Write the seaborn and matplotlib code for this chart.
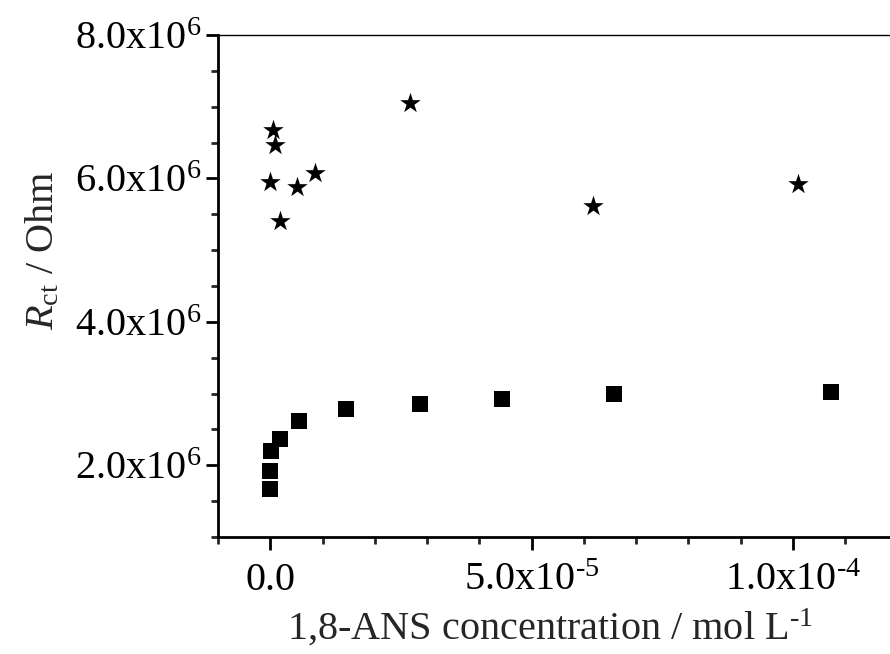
import matplotlib
matplotlib.use("Agg")
import matplotlib.pyplot as plt
import seaborn as sns
import pandas as pd
from matplotlib.ticker import FixedLocator, MultipleLocator, FixedFormatter

# ---- data ----
sq_x = [0.0, 0.0, 0.1e-6, 1.9e-6, 5.5e-6, 1.45e-5, 2.86e-5, 4.44e-5, 6.58e-5, 1.073e-4]
sq_y = [1.675e6, 1.92e6, 2.196e6, 2.373e6, 2.62e6, 2.78e6, 2.86e6, 2.925e6, 2.99e6, 3.02e6]

st_x = [0.5e-6, 1.0e-6, 0.0, 5.1e-6, 8.5e-6, 1.8e-6, 2.68e-5, 6.18e-5, 1.01e-4]
st_y = [6.68e6, 6.47e6, 5.95e6, 5.875e6, 6.07e6, 5.40e6, 7.05e6, 5.61e6, 5.92e6]

x_ticks = [0.0, 5.0e-5, 1.0e-4]
x_ticklabels = ["0.0", r"5.0x10$^{\text{-}5}$", r"1.0x10$^{\text{-}4}$"]
y_ticks = [2.0e6, 4.0e6, 6.0e6, 8.0e6]
y_ticklabels = [r"2.0x10$^{6}$", r"4.0x10$^{6}$", r"6.0x10$^{6}$", r"8.0x10$^{6}$"]

df_sq = pd.DataFrame({"x": sq_x, "y": sq_y})
df_st = pd.DataFrame({"x": st_x, "y": st_y})

sns.set_style("ticks")
plt.rcParams["font.family"] = ["Liberation Serif", "DejaVu Serif"]
plt.rcParams["mathtext.fontset"] = "custom"
plt.rcParams["mathtext.rm"] = "Liberation Serif"
plt.rcParams["mathtext.it"] = "Liberation Serif:italic"
plt.rcParams["mathtext.bf"] = "Liberation Serif:bold"

FS = 29

fig = plt.figure(figsize=(8.9, 6.54), dpi=100)
ax = fig.add_axes([218/890, 1 - 537/654, 1 - 218/890, (537 - 35)/654])

sns.scatterplot(data=df_sq, x="x", y="y", marker="s", s=125, color="black",
                linewidth=0, ax=ax, legend=False)
sns.scatterplot(data=df_st, x="x", y="y", marker="*", s=240, color="black",
                linewidth=0, ax=ax, legend=False)

ax.set_xlim(-1.0e-5, 1.186e-4)
ax.set_ylim(1.0e6, 8.0e6)

ax.xaxis.set_major_locator(FixedLocator(x_ticks))
ax.xaxis.set_major_formatter(FixedFormatter(x_ticklabels))
ax.xaxis.set_minor_locator(MultipleLocator(1.0e-5))
ax.yaxis.set_major_locator(FixedLocator(y_ticks))
ax.yaxis.set_major_formatter(FixedFormatter(y_ticklabels))
ax.yaxis.set_minor_locator(MultipleLocator(0.5e6))

ax.spines["right"].set_visible(False)
ax.spines["top"].set_linewidth(1.0)
ax.spines["left"].set_linewidth(2.0)
ax.spines["bottom"].set_linewidth(2.0)
for s in ax.spines.values():
    s.set_color("black")

ax.tick_params(axis="both", which="major", direction="out", length=9, width=2.0,
               labelsize=FS, colors="black")
ax.tick_params(axis="both", which="minor", direction="out", length=5, width=2.0)
ax.tick_params(top=False, right=False, which="both")
ax.tick_params(axis="y", which="major", pad=3)
ax.tick_params(axis="x", which="major", pad=29)

for t in ax.xaxis.get_major_ticks():
    t.label1.set_verticalalignment("baseline")

ax.set_xlabel(r"1,8-ANS concentration / mol L$^{\text{-}1}$", fontsize=FS)
ax.set_ylabel(r"$R_{\mathrm{ct}}$ / Ohm", fontsize=FS)
ax.xaxis.set_label_coords(0.494, -0.14)
ax.yaxis.set_label_coords(-0.232, 0.572)

ax.grid(False)
fig.savefig("out.png", dpi=100, facecolor="white")
